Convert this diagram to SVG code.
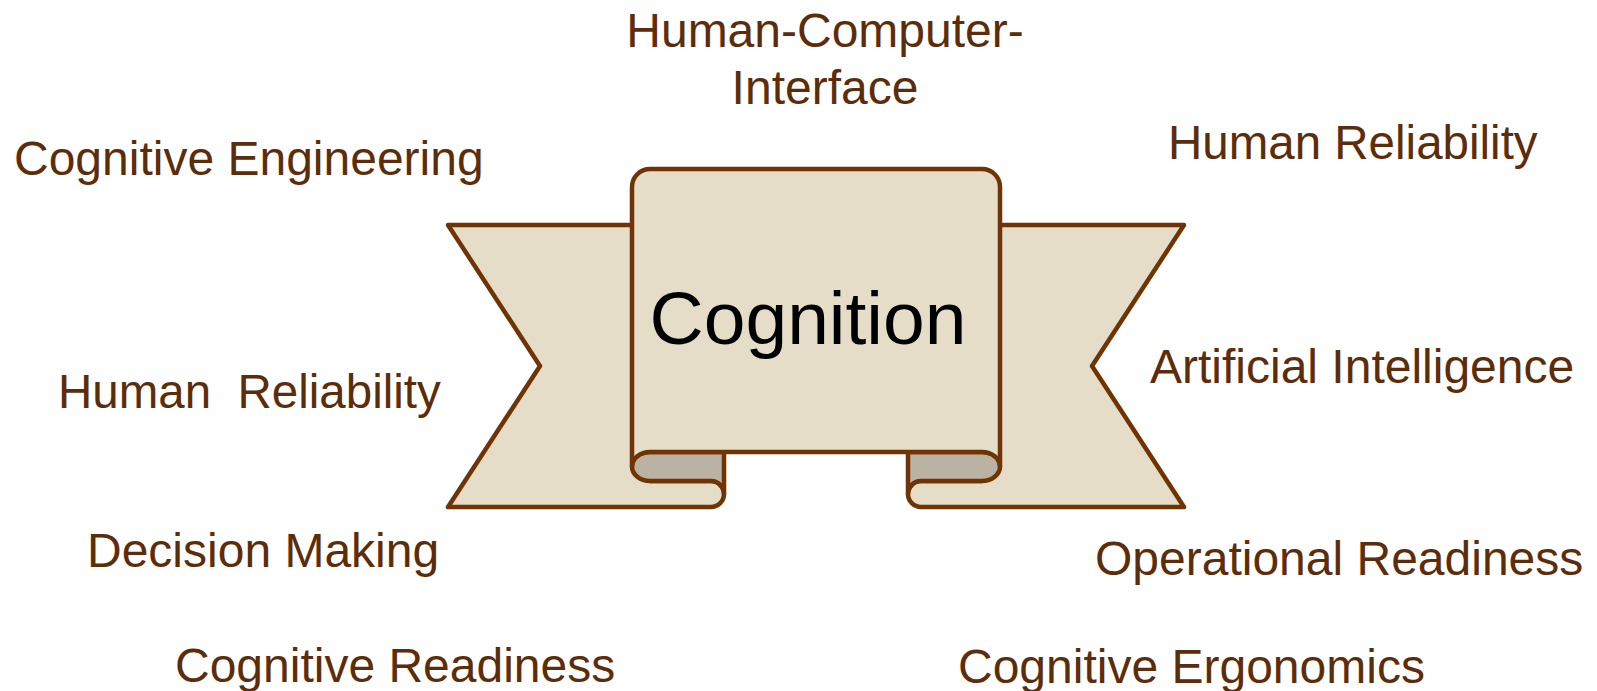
<svg xmlns="http://www.w3.org/2000/svg" width="1597" height="691" viewBox="0 0 1597 691">
<style>
.ln{stroke:#6F3304;stroke-width:4.5;stroke-linejoin:round;stroke-linecap:round}
.bg{fill:#E5DDC8}
.gy{fill:#BAB2A2}
.lbl{font-family:"Liberation Sans",Arial,sans-serif;font-size:48px;fill:#5C2D0A}
.title{font-family:"Liberation Sans",Arial,sans-serif;font-size:75px;fill:#000000;text-anchor:middle}
</style>
<rect width="1597" height="691" fill="#FFFFFF"/>
<g id="banner">
  <path id="tail-left" class="bg ln" d="M632,225 L448,225 L540,366 L448,507 L711,507 A13,13 0 0 0 711,481 L650,481"/>
  <path id="tail-right" class="bg ln" d="M1000,225 L1184,225 L1092,366 L1184,507 L921,507 A13,13 0 0 1 921,481 L982,481"/>
  <path id="fold-left" class="gy ln" d="M650,452 L724,452 L724,494 A13,13 0 0 0 711,481 L650,481 A18,14.5 0 0 1 650,452 Z"/>
  <path id="fold-right" class="gy ln" d="M982,452 L908,452 L908,494 A13,13 0 0 1 921,481 L982,481 A18,14.5 0 0 0 982,452 Z"/>
  <path id="panel" class="bg ln" d="M632,466.5 L632,187 A18,18 0 0 1 650,169 L982,169 A18,18 0 0 1 1000,187 L1000,466.5 A18,14.5 0 0 0 982,452 L650,452 A18,14.5 0 0 0 632,466.5 Z"/>
  <text class="title" x="808" y="344">Cognition</text>
</g>
<g id="connectors"></g>
<g id="n-hci"><text class="lbl" x="825" y="47" text-anchor="middle">Human-Computer-</text><text class="lbl" x="825" y="104" text-anchor="middle">Interface</text></g>
<g id="n-cogeng"><text class="lbl" x="14" y="175">Cognitive Engineering</text></g>
<g id="n-hr-right"><text class="lbl" x="1168" y="159" style="font-size:47.5px">Human Reliability</text></g>
<g id="n-ai"><text class="lbl" x="1150" y="383">Artificial Intelligence</text></g>
<g id="n-hr-left"><text class="lbl" x="58" y="408" xml:space="preserve" style="font-size:47.5px;white-space:pre">Human  Reliability</text></g>
<g id="n-dm"><text class="lbl" x="87" y="567">Decision Making</text></g>
<g id="n-opr"><text class="lbl" x="1095" y="575">Operational Readiness</text></g>
<g id="n-cogread"><text class="lbl" x="175" y="682">Cognitive Readiness</text></g>
<g id="n-cogerg"><text class="lbl" x="958" y="683">Cognitive Ergonomics</text></g>
</svg>
